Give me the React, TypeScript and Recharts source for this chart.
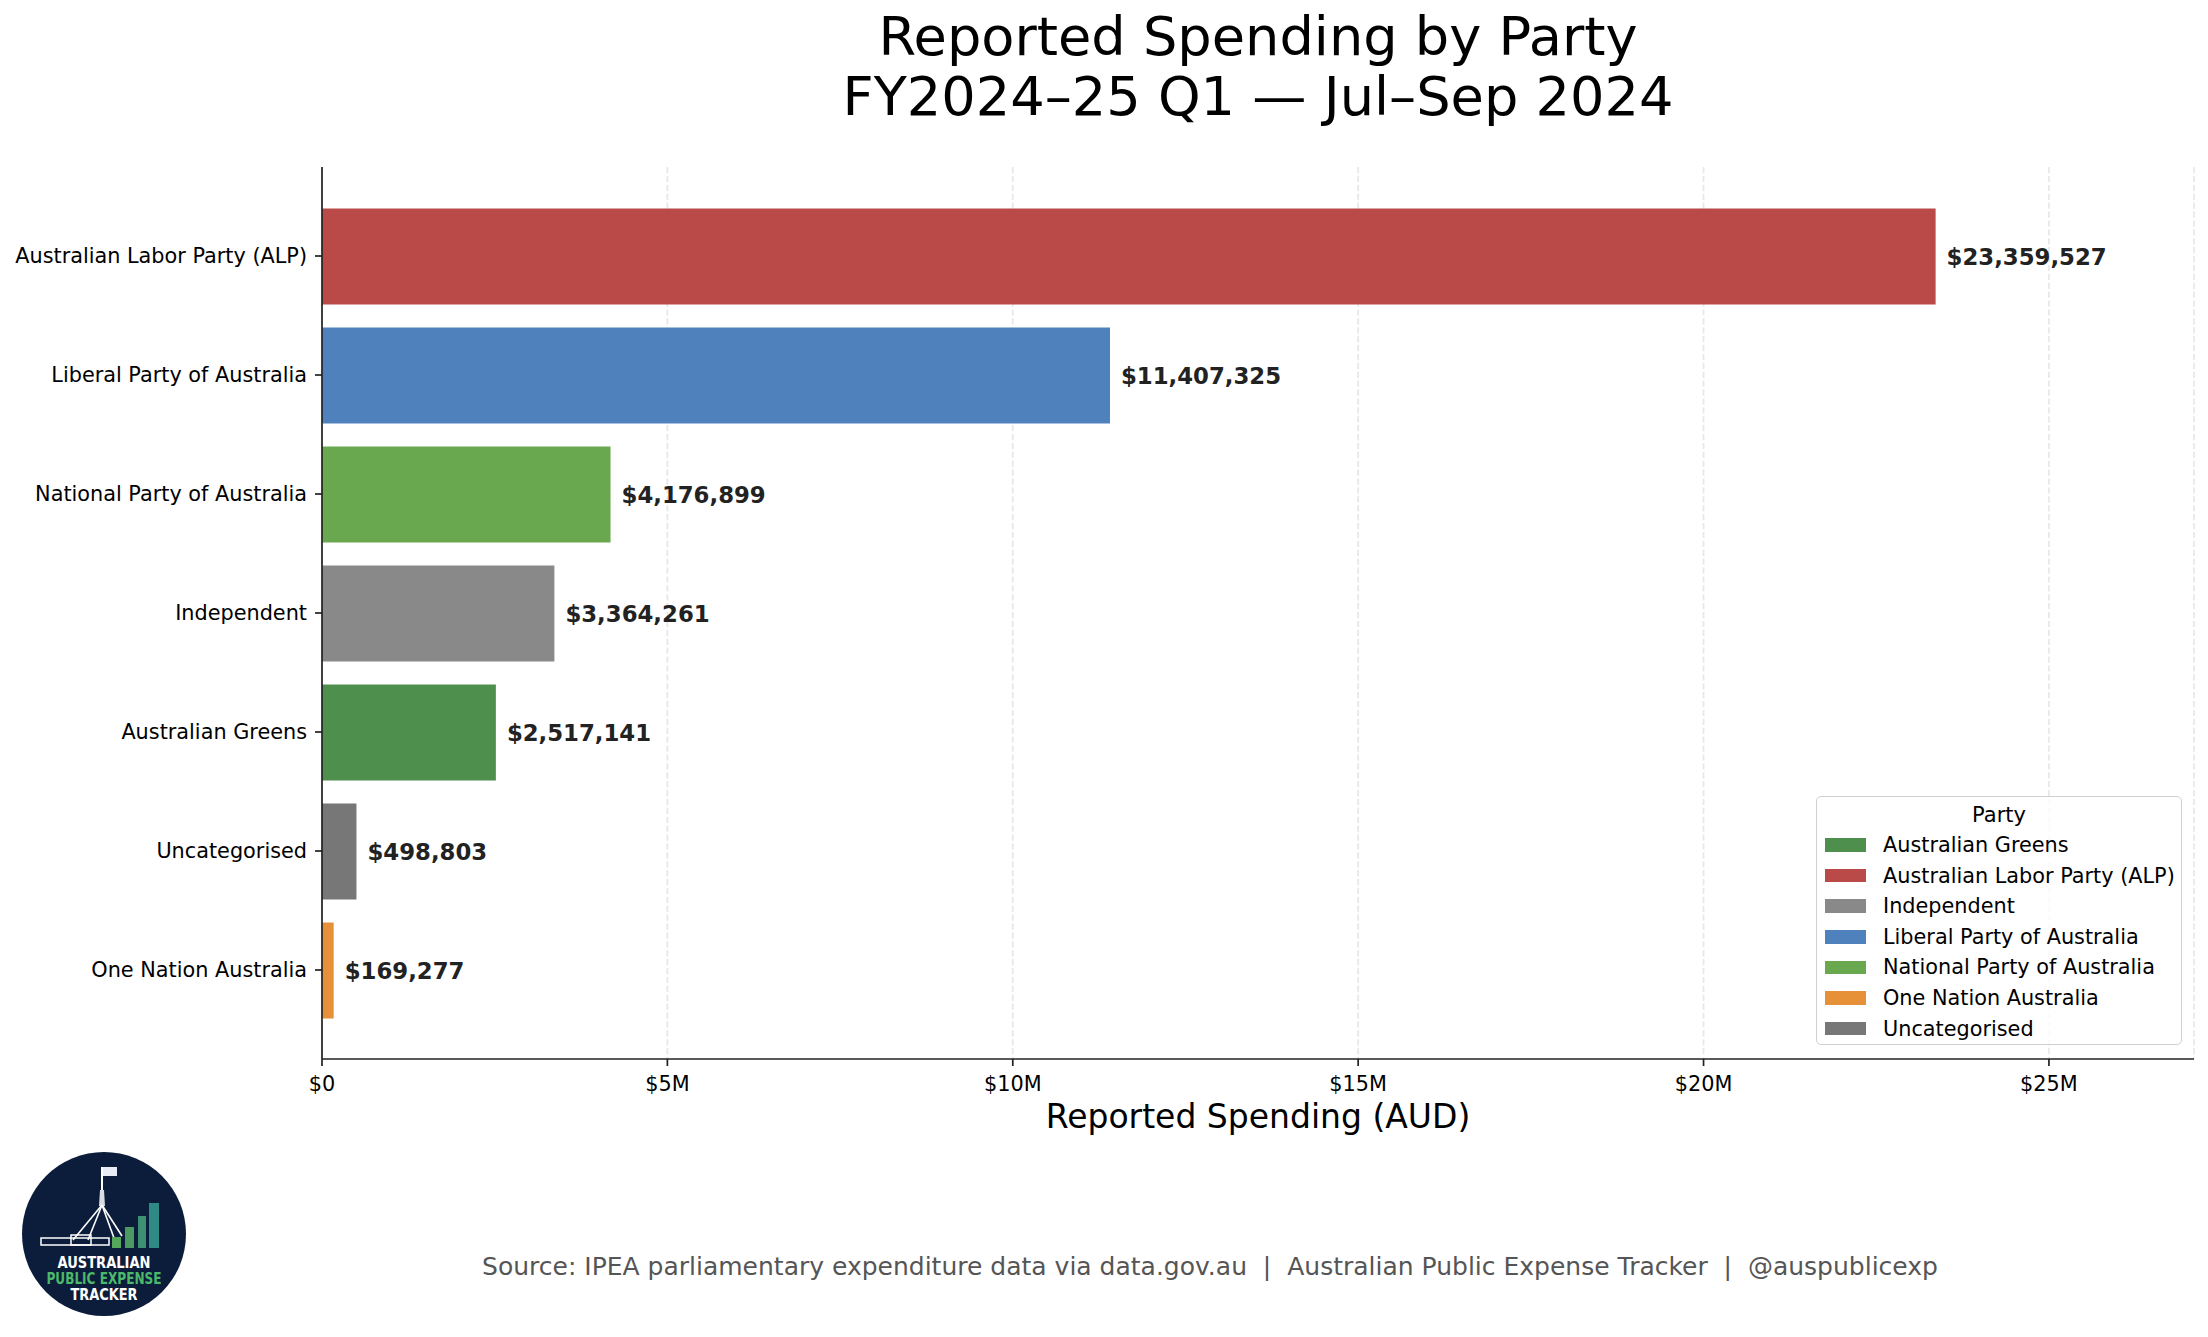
import { BarChart, Bar, XAxis, YAxis, CartesianGrid, Cell, LabelList } from 'recharts';

const parties = [
  'Australian Labor Party (ALP)',
  'Liberal Party of Australia',
  'National Party of Australia',
  'Independent',
  'Australian Greens',
  'Uncategorised',
  'One Nation Australia',
];
const spending = [23359527, 11407325, 4176899, 3364261, 2517141, 498803, 169277];
const partyColors = ['#b94a48', '#4f81bd', '#6aa84f', '#898989', '#4e8f4e', '#777777', '#e69138'];
const xTicks = [0, 5000000, 10000000, 15000000, 20000000, 25000000];

const FONT = '"DejaVu Sans", sans-serif';

const data = parties.map((party, i) => ({ party, value: spending[i], color: partyColors[i] }));
const legendItems = [...data].sort((a, b) => a.party.localeCompare(b.party));

const money = (v: number) => '$' + v.toLocaleString('en-US');
const millions = (v: number) => (v === 0 ? '$0' : `$${v / 1000000}M`);

function PartyLegend() {
  return (
    <div
      style={{
        position: 'absolute',
        left: 1816,
        top: 796,
        width: 366,
        height: 249,
        border: '1.5px solid #d0d0d0',
        borderRadius: 5,
        background: 'rgba(255,255,255,0.8)',
        fontFamily: FONT,
        fontSize: 20.8,
        color: '#000',
        boxSizing: 'border-box',
      }}
    >
      <div style={{ position: 'absolute', left: 0, width: '100%', top: 6, textAlign: 'center', fontSize: 21 }}>
        Party
      </div>
      {legendItems.map((item, i) => (
        <div key={item.party} style={{ position: 'absolute', left: 8, top: 36 + i * 30.6, height: 24, display: 'flex', alignItems: 'center' }}>
          <div style={{ width: 41, height: 13.5, background: item.color }} />
          <div style={{ marginLeft: 17, whiteSpace: 'nowrap' }}>{item.party}</div>
        </div>
      ))}
    </div>
  );
}

function Overlay() {
  return (
    <svg width={2208} height={1337} style={{ position: 'absolute', left: 0, top: 0, pointerEvents: 'none' }}>
      <text x={1258} y={55} textAnchor="middle" fontFamily={FONT} fontSize={54.2} fill="#000">
        Reported Spending by Party
      </text>
      <text x={1258} y={115} textAnchor="middle" fontFamily={FONT} fontSize={54.2} fill="#000">
        FY2024–25 Q1 — Jul–Sep 2024
      </text>
      <text x={1210} y={1275} textAnchor="middle" fontFamily={FONT} fontSize={25} fill="#555" style={{ whiteSpace: 'pre' }}>
        {'Source: IPEA parliamentary expenditure data via data.gov.au  |  Australian Public Expense Tracker  |  @auspublicexp'}
      </text>

      {/* logo */}
      <circle cx={104} cy={1234} r={82} fill="#0b1d3b" />
      <line x1={102} y1={1167} x2={102} y2={1205} stroke="#fff" strokeWidth={2} />
      <rect x={103} y={1167} width={14} height={9} fill="#e8ecf4" />
      <polygon points="100,1190 104,1190 105,1206 99,1206" fill="#d8dce4" />
      <line x1={102} y1={1205} x2={73} y2={1240} stroke="#fff" strokeWidth={1.6} />
      <line x1={102} y1={1205} x2={88} y2={1240} stroke="#fff" strokeWidth={1.6} />
      <line x1={102} y1={1205} x2={114} y2={1238} stroke="#fff" strokeWidth={1.6} />
      <line x1={102} y1={1205} x2={122} y2={1236} stroke="#fff" strokeWidth={1.6} />
      <rect x={41} y={1238} width={68} height={7} fill="none" stroke="#fff" strokeWidth={1.5} />
      <rect x={71} y={1235} width={20} height={10} fill="none" stroke="#fff" strokeWidth={1.5} />
      <rect x={112} y={1237} width={9} height={11} fill="#55a85c" />
      <rect x={125} y={1227} width={9} height={21} fill="#4a9a62" />
      <rect x={138} y={1216} width={8} height={32} fill="#3e9072" />
      <rect x={149} y={1203} width={10} height={45} fill="#2f8a86" />
      <text x={104} y={1268} textAnchor="middle" fontFamily='"DejaVu Sans Condensed", "DejaVu Sans", sans-serif' fontWeight="bold" fontSize={15} fill="#fff" textLength={93} lengthAdjust="spacingAndGlyphs">
        AUSTRALIAN
      </text>
      <text x={104} y={1284} textAnchor="middle" fontFamily='"DejaVu Sans Condensed", "DejaVu Sans", sans-serif' fontWeight="bold" fontSize={15} fill="#4cb86a" textLength={115} lengthAdjust="spacingAndGlyphs">
        PUBLIC EXPENSE
      </text>
      <text x={104} y={1300} textAnchor="middle" fontFamily='"DejaVu Sans Condensed", "DejaVu Sans", sans-serif' fontWeight="bold" fontSize={15} fill="#fff" textLength={67} lengthAdjust="spacingAndGlyphs">
        TRACKER
      </text>
    </svg>
  );
}

export default function App() {
  return (
    <div style={{ position: 'absolute', left: 0, top: 0, width: 2208, height: 1337, background: '#fff', fontFamily: FONT }}>
      <BarChart
        width={2208}
        height={1337}
        data={data}
        layout="vertical"
        margin={{ top: 167, right: 14, bottom: 209, left: 0 }}
      >
        <XAxis
          type="number"
          domain={[0, 27100000]}
          ticks={xTicks}
          tickFormatter={millions}
          height={69}
          tickSize={7}
          tickMargin={10}
          tick={{ fill: '#000', fontSize: 20.8, fontFamily: FONT }}
          tickLine={{ stroke: '#222', strokeWidth: 1.7 }}
          axisLine={{ stroke: '#222', strokeWidth: 1.7 }}
          label={{ value: 'Reported Spending (AUD)', position: 'insideBottom', offset: 0, fontSize: 33, fill: '#000', fontFamily: FONT }}
        />
        <YAxis
          type="category"
          dataKey="party"
          width={322}
          tickSize={7}
          tickMargin={8}
          padding={{ top: 29.5, bottom: 29.5 }}
          tick={{ fill: '#000', fontSize: 20.8, fontFamily: FONT }}
          tickLine={{ stroke: '#222', strokeWidth: 1.7 }}
          axisLine={{ stroke: '#222', strokeWidth: 1.7 }}
          interval={0}
        />
        <Bar dataKey="value" barSize={96} isAnimationActive={false}>
          {data.map((d) => (
            <Cell key={d.party} fill={d.color} />
          ))}
          <LabelList
            dataKey="value"
            position="right"
            offset={11}
            formatter={(v: any) => money(Number(v))}
            fill="#222"
            fontSize={22.8}
            fontWeight="bold"
            fontFamily={FONT}
          />
        </Bar>
        <CartesianGrid
          horizontal={false}
          stroke="#b0b0b0"
          strokeOpacity={0.3}
          strokeWidth={1.7}
          strokeDasharray="6.2 2.7"
        />
      </BarChart>
      <PartyLegend />
      <Overlay />
    </div>
  );
}
